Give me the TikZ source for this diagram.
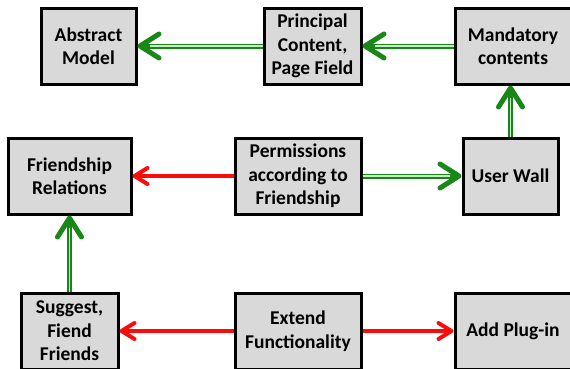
\documentclass[tikz,border=0pt]{standalone}
\usepackage{fontspec}
\setmainfont{Carlito}
\usetikzlibrary{arrows.meta,shadows}

\definecolor{boxfill}{RGB}{217,217,217}
\definecolor{gdark}{RGB}{24,135,24}
\definecolor{glight}{RGB}{200,235,200}
\definecolor{rline}{RGB}{250,12,12}

\tikzset{
  box/.style={draw=black, line width=3pt, fill=boxfill, align=center,
    minimum height=76pt, inner sep=2pt,
    font=\bfseries\fontsize{19.5}{23.5}\selectfont,
    drop shadow={shadow xshift=0.6pt, shadow yshift=-2pt, opacity=0.3, fill=black}},
  garrow/.style={draw=gdark, line width=5pt,
    -{Straight Barb[length=19pt, width=24pt, line width=5pt, round]},
    postaction={draw=glight, line width=1.6pt, -, shorten >=12pt}},
  rarrow/.style={draw=rline, line width=4pt,
    -{Straight Barb[length=13pt, width=16pt, line width=4pt, round]}}
}

\begin{document}
\begin{tikzpicture}[x=1pt, y=-1pt]
  \path[use as bounding box] (0,0) rectangle (570,368);
  \clip (0,0) rectangle (570,368);

  % top row
  \node[box, minimum width=95pt]  (abs)  at (88.5,46)  {Abstract\\Model};
  \node[box, minimum width=97pt]  (prin) at (312.5,46) {Principal\\Content,\\Page Field};
  \node[box, minimum width=116pt] (mand) at (513,46)   {Mandatory\\contents};

  % middle row
  \node[box, minimum width=123pt] (fr)   at (69.5,176) {Friendship\\Relations};
  \node[box, minimum width=126pt] (perm) at (298,176)  {Permissions\\according to\\Friendship};
  \node[box, minimum width=95pt]  (wall) at (510.5,176) {User Wall};

  % bottom row
  \node[box, minimum width=97pt]  (sugg) at (69.5,331) {Suggest,\\Fiend\\Friends};
  \node[box, minimum width=126pt] (ext)  at (298,331)  {Extend\\Functionality};
  \node[box, minimum width=116pt] (plug) at (513,331)  {Add Plug-in};

  % green connectors
  \draw[garrow] (prin.west) -- (abs.east);
  \draw[garrow] (mand.west) -- (prin.east);
  \draw[garrow] (wall.north) -- (wall.north |- mand.south);
  \draw[garrow] (perm.east) -- (wall.west);
  \draw[garrow] (sugg.north) -- (sugg.north |- fr.south);

  % red connectors
  \draw[rarrow] (perm.west) -- (fr.east);
  \draw[rarrow] (ext.west) -- (sugg.east);
  \draw[rarrow] (ext.east) -- (plug.west);
\end{tikzpicture}
\end{document}
